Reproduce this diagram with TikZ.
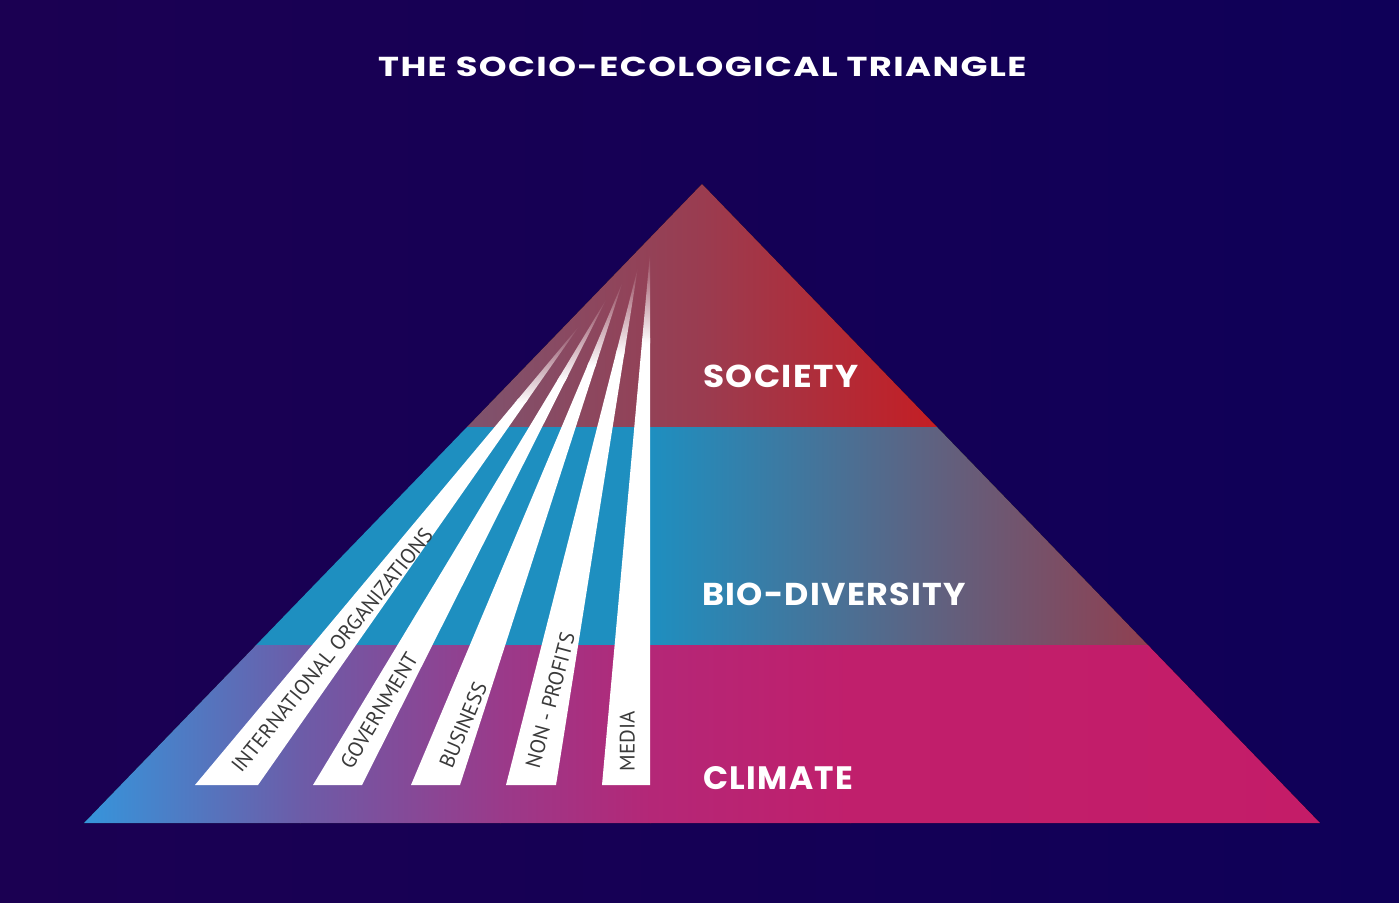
\documentclass[tikz,border=0pt]{standalone}
\usepackage{fontspec}
\usepackage{graphicx}
\usetikzlibrary{calc}
\newfontfamily\titlefont{Poppins}[LetterSpace=4]
\newfontfamily\stripfont{PT Sans}
\definecolor{bgL}{HTML}{1B0052}
\definecolor{bgR}{HTML}{0F0058}
\definecolor{socA}{HTML}{7E536E}
\definecolor{socB}{HTML}{9A3C50}
\definecolor{socC}{HTML}{C41E24}
\definecolor{bioA}{HTML}{1E8FC0}
\definecolor{bioB}{HTML}{903F50}
\definecolor{cliA}{HTML}{3596DC}
\definecolor{cliB}{HTML}{6C5CA8}
\definecolor{cliC}{HTML}{9A3A8A}
\definecolor{cliD}{HTML}{B42777}
\definecolor{cliE}{HTML}{C01F6C}
\definecolor{cliF}{HTML}{C41C68}
\definecolor{striptext}{HTML}{3A3A3A}
\tikzset{
  bandlabel/.style={anchor=base west, inner sep=0pt, text=white, font=\titlefont\bfseries},
  striplabel/.style={anchor=west, inner sep=0pt, text=striptext, font=\stripfont\fontsize{21bp}{21bp}\selectfont},
  stripbody/.style={fill=white, draw=none},
}
\begin{document}
\begin{tikzpicture}[x=1bp, y=-1bp]
\useasboundingbox (0,0) rectangle (1399,902);
\fill[left color=bgL, right color=bgR] (0,0) rectangle (1399,902);
% triangle
\coordinate (apex) at (702,184);
\coordinate (bl) at (84,823);
\coordinate (br) at (1320,823);
\begin{scope}
  \clip (apex) -- (br) -- (bl) -- cycle;
  % society
  \fill[left color=socA, right color=socC, middle color=socB] (467,180) rectangle (937,428);
  % bio-diversity
  \fill[bioA] (250,427) rectangle (651,646);
  \fill[left color=bioA, right color=bioB] (650,427) rectangle (1150,646);
  % climate
  \fill[left color=cliA, right color=cliB] (80,645) rectangle (301,830);
  \fill[left color=cliB, right color=cliC] (300,645) rectangle (501,830);
  \fill[left color=cliC, right color=cliD] (500,645) rectangle (651,830);
  \fill[left color=cliD, right color=cliE] (650,645) rectangle (851,830);
  \fill[left color=cliE, right color=cliF] (850,645) rectangle (1325,830);
\end{scope}
% strips
\foreach \bla/\brb/\tx/\ty/\mx [count=\i] in {195/258/580/325/48, 313/362/607/298/60, 411/460/623/281/66, 506/556/638/267/73, 602/650/650/253/78} {
  \coordinate (t\i) at (\tx,\ty);
  \coordinate (bl\i) at (\bla,785);
  \coordinate (br\i) at (\brb,785);
  \coordinate (ml\i) at ($(t\i)!0.17!(bl\i)$);
  \coordinate (mr\i) at ($(t\i)!0.17!(br\i)$);
  \coordinate (nl\i) at ($(t\i)!0.16!(bl\i)$);
  \coordinate (nr\i) at ($(t\i)!0.16!(br\i)$);
  \fill[stripbody] (nl\i) -- (bl\i) -- (br\i) -- (nr\i) -- cycle;
  \shade[top color=socB!\mx!socA, bottom color=white] (t\i) -- (ml\i) -- (mr\i) -- cycle;
}
% strip labels
\node[striplabel, rotate=51] (lab1) at (235.6,769.4) {INTERNATIONAL ORGANIZATIONS};
\node[striplabel, rotate=59] (lab2) at (345.4,766.7) {GOVERNMENT};
\node[striplabel, rotate=67] (lab3) at (445.3,767.1) {BUSINESS};
\node[striplabel, rotate=75] (lab4) at (532.2,767.5) {NON - PROFITS};
\node[striplabel, rotate=90] (lab5) at (627.3,771.7) {MEDIA};
% band labels
\node[bandlabel] (title) at (378,76.5) {\resizebox{648bp}{19.5bp}{THE SOCIO-ECOLOGICAL TRIANGLE}};
\node[bandlabel] (society) at (703,387.5) {\resizebox{155bp}{22.5bp}{SOCIETY}};
\node[bandlabel] (bio) at (702,605.5) {\resizebox{264bp}{22.5bp}{BIO-DIVERSITY}};
\node[bandlabel] (climate) at (703,789) {\resizebox{150bp}{23bp}{CLIMATE}};
\end{tikzpicture}
\end{document}
